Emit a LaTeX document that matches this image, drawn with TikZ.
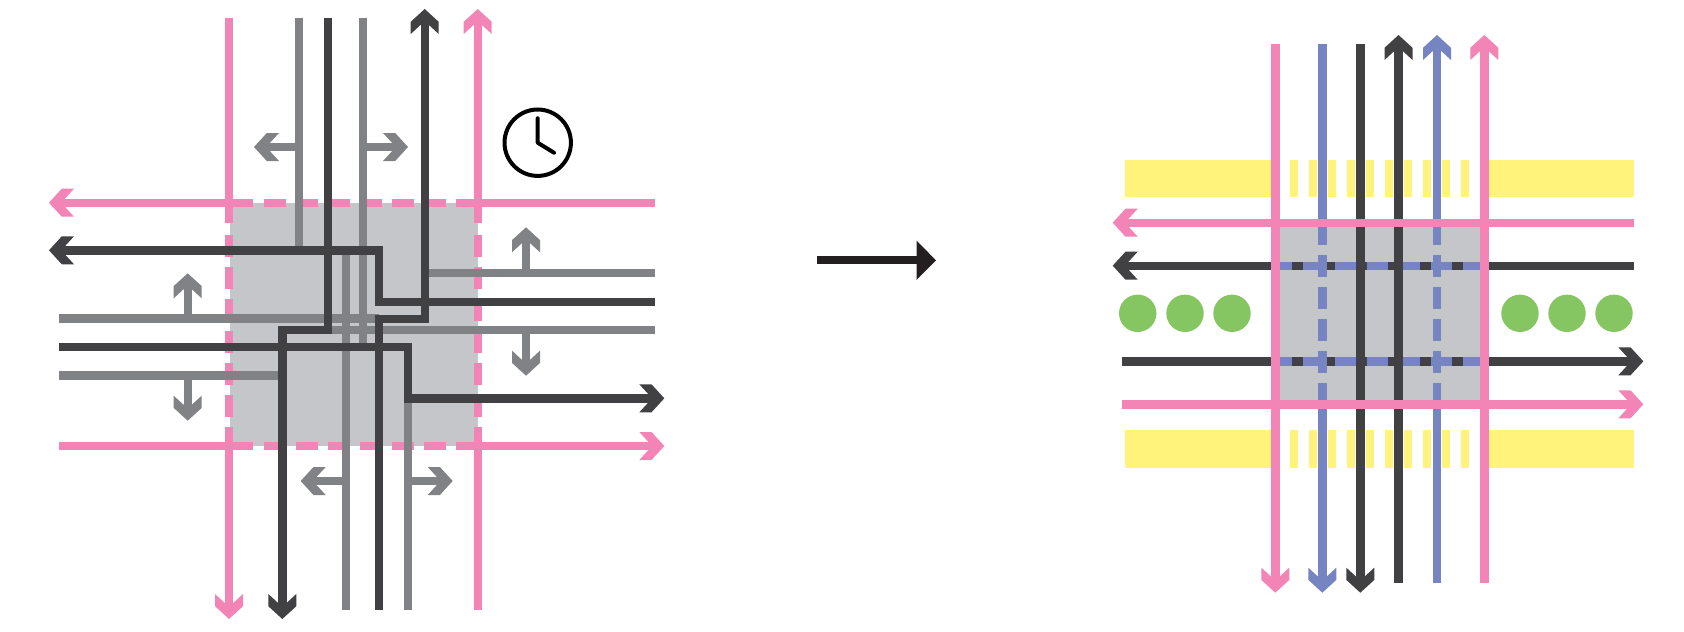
\documentclass[tikz,border=0pt]{standalone}
\usetikzlibrary{arrows.meta}
\definecolor{cpink}{HTML}{F285B5}
\definecolor{cdark}{HTML}{414042}
\definecolor{cgray}{HTML}{808285}
\definecolor{crect}{HTML}{C5C6CA}
\definecolor{cblue}{HTML}{7685C1}
\definecolor{cyellow}{HTML}{FFF37C}
\definecolor{cgreen}{HTML}{86C662}
\definecolor{cblack}{HTML}{231F20}
\pgfdeclarearrow{
  name=Chev,
  setup code={
    \pgfarrowssettipend{0pt}
    \pgfarrowssetlineend{-6.5pt}
    \pgfarrowssetvisualbackend{-12.5pt}
    \pgfarrowssetbackend{-12.5pt}
    \pgfarrowshullpoint{0pt}{0pt}
    \pgfarrowshullpoint{-12.5pt}{7pt}
    \pgfarrowshullpoint{-12.5pt}{-7pt}
  },
  drawing code={
    \pgfpathmoveto{\pgfpoint{0pt}{0pt}}
    \pgfpathlineto{\pgfpoint{-6.4pt}{7pt}}
    \pgfpathlineto{\pgfpoint{-12.5pt}{7pt}}
    \pgfpathlineto{\pgfpoint{-8pt}{2.1pt}}
    \pgfpathlineto{\pgfpoint{-8pt}{-2.1pt}}
    \pgfpathlineto{\pgfpoint{-12.5pt}{-7pt}}
    \pgfpathlineto{\pgfpoint{-6.4pt}{-7pt}}
    \pgfpathclose
    \pgfusepathqfill
  }
}
\tikzset{
  road/.style={line width=4.2pt,line cap=butt,miter limit=10},
  pinkl/.style={road,draw=cpink},
  darkl/.style={road,draw=cdark},
  grayl/.style={road,draw=cgray},
  bluel/.style={road,draw=cblue},
  arr/.style={-Chev},
  dashes/.style={dash pattern=on 10.83pt off 5.17pt},
  yel/.style={fill=cyellow,draw=none},
  tree/.style={fill=cgreen,draw=none}
}
\begin{document}
\begin{tikzpicture}[x=0.5pt,y=-0.5pt]
\useasboundingbox (0,0) rectangle (1684,631);
\fill[white] (0,0) rectangle (1684,631);
% ---------- left diagram
\fill[crect] (230,202.7) rectangle (478,446);
% pink roads with dashed crossings
\draw[pinkl,arr] (253,202.7) -- (49,202.7);
\draw[pinkl,dashes] (264,202.7) -- (445.7,202.7);
\draw[pinkl] (456.3,202.7) -- (655,202.7);
\draw[pinkl] (59,446) -- (253,446);
\draw[pinkl,dashes] (264,446) -- (445.7,446);
\draw[pinkl,arr] (456.3,446) -- (664.3,446);
\draw[pinkl] (229,18) -- (229,223);
\draw[pinkl,dashes] (229,235) -- (229,416.7);
\draw[pinkl,arr] (229,427) -- (229,619);
\draw[pinkl,arr] (477.7,223) -- (477.7,9);
\draw[pinkl,dashes] (477.7,235) -- (477.7,416.7);
\draw[pinkl] (477.7,427) -- (477.7,610);
% gray lanes
\draw[grayl] (299,18) -- (299,250.3);
\draw[grayl] (363,18) -- (363,346.7);
\draw[grayl] (345.7,250.3) -- (345.7,610);
\draw[grayl] (407.7,398.3) -- (407.7,610);
\draw[grayl] (59,318.3) -- (378.7,318.3);
\draw[grayl] (59,375.3) -- (282.3,375.3);
\draw[grayl] (655,273) -- (424.7,273);
\draw[grayl] (655,330) -- (327.7,330);
% gray side arrows
\draw[grayl,arr] (299,147) -- (254,147);
\draw[grayl,arr] (363,147) -- (408,147);
\draw[grayl,arr] (187.7,318.3) -- (187.7,273.3);
\draw[grayl,arr] (187.7,375.3) -- (187.7,420.7);
\draw[grayl,arr] (526,273) -- (526,227.3);
\draw[grayl,arr] (526,330) -- (526,375.7);
\draw[grayl,arr] (345.7,481) -- (300.7,481);
\draw[grayl,arr] (407.7,481) -- (452.7,481);
% dark lanes
\draw[darkl,arr] (655,301.7) -- (378.7,301.7) -- (378.7,250.3) -- (49,250.3);
\draw[darkl,arr] (327.7,18) -- (327.7,330) -- (282.3,330) -- (282.3,619);
\draw[darkl,arr] (378.7,610) -- (378.7,318.7) -- (424.7,318.7) -- (424.7,9);
\draw[darkl,arr] (59,346.7) -- (407.7,346.7) -- (407.7,398.3) -- (664.3,398.3);
% clock
\draw[black,line width=2pt] (537.7,142.7) circle[radius=33.2];
\draw[black,line width=2pt,line cap=round,line join=round] (537.7,118.3) -- (537.7,142.7) -- (554,152.7);
% ---------- central arrow
\draw[cblack,line width=4pt,-{Triangle[length=9.7pt,width=19pt]}] (817.3,260.3) -- (936,260.3);
% ---------- right diagram
\fill[yel] (1125.3,159.7) rectangle (1280,197);
\fill[yel] (1488,159.7) rectangle (1634,197);
\fill[yel] (1125.3,430.3) rectangle (1280,467.7);
\fill[yel] (1488,430.3) rectangle (1634,467.7);
\foreach \i in {0,...,9}{
  \fill[yel] ({1290+19*\i},159.7) rectangle ++(8.33,37.3);
  \fill[yel] ({1290+19*\i},430.3) rectangle ++(8.33,37.4);
}
\foreach \cx in {1137.7,1185,1232,1520,1567,1614}{
  \fill[tree] (\cx,313.3) circle[radius=18.7];
}
\fill[crect] (1279.3,226.7) rectangle (1480.3,400);
% dark cross lanes with blue dashes
\draw[darkl,arr] (1634,265.7) -- (1112.7,265.7);
\draw[darkl,arr] (1121.7,361.3) -- (1643.3,361.3);
\draw[bluel,dashes] (1270.7,265.7) -- (1480,265.7);
\draw[bluel,dashes] (1270.7,361.3) -- (1480,361.3);
% blue verticals
\draw[bluel] (1322.3,44.3) -- (1322.3,223);
\draw[bluel,dashes] (1322.3,223) -- (1322.3,404.3);
\draw[bluel,arr] (1322.3,404.3) -- (1322.3,592.7);
\draw[bluel] (1437,583.3) -- (1437,404.3);
\draw[bluel,dashes] (1437,223) -- (1437,404.3);
\draw[bluel,arr] (1437,223) -- (1437,35);
% dark verticals
\draw[darkl,arr] (1360.3,44.3) -- (1360.3,592.7);
\draw[darkl,arr] (1398.5,583.3) -- (1398.5,35);
% pink on top
\draw[pinkl,arr] (1634,222.7) -- (1112.7,222.7);
\draw[pinkl,arr] (1121.7,404.3) -- (1643.3,404.3);
\draw[pinkl,arr] (1275.3,44.3) -- (1275.3,592.7);
\draw[pinkl,arr] (1484.3,583.3) -- (1484.3,35);
\end{tikzpicture}
\end{document}
